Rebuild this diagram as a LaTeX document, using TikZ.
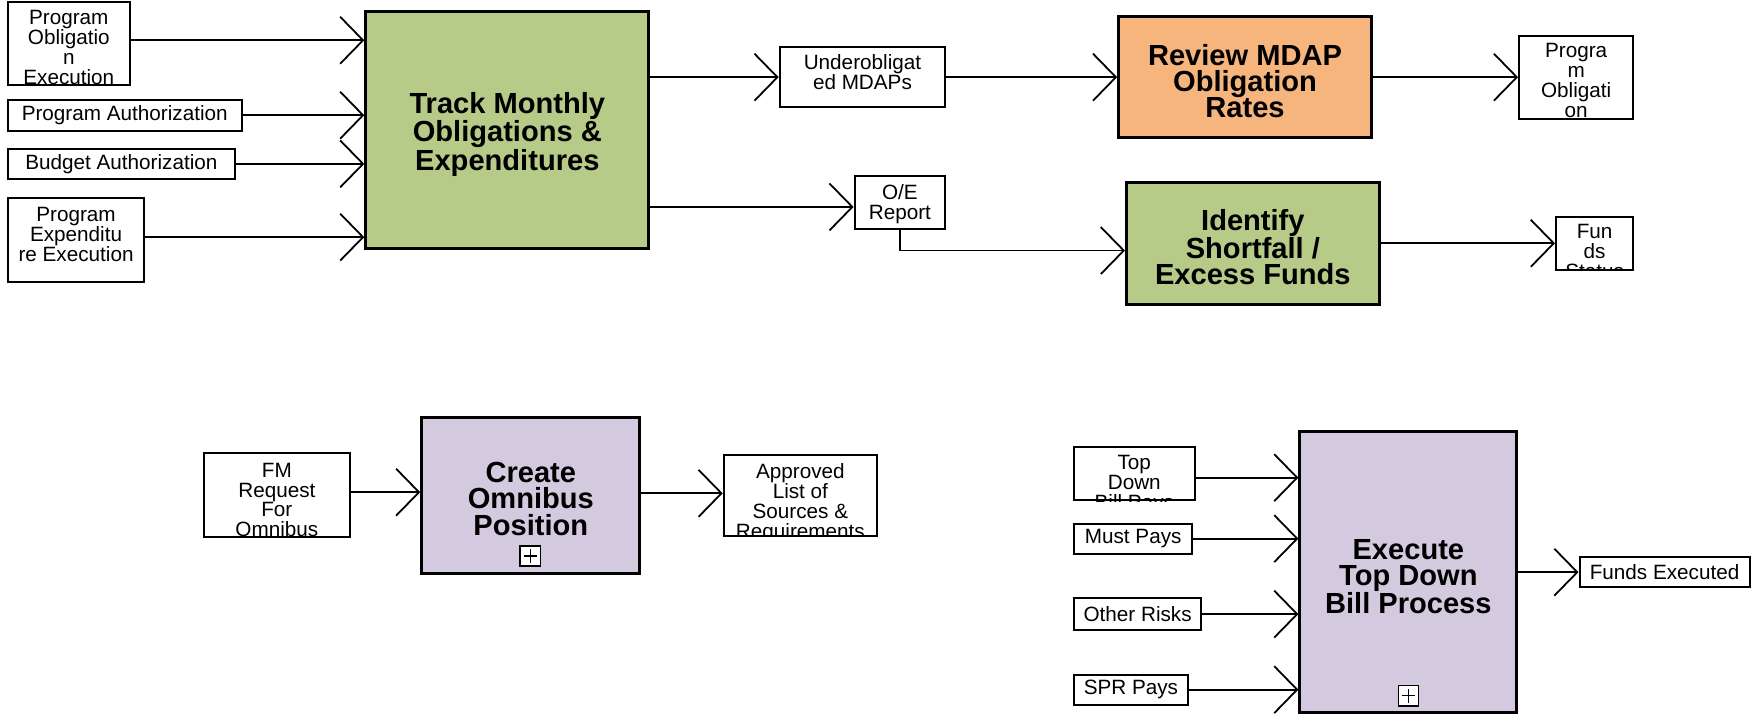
\documentclass[tikz,border=0pt]{standalone}
\usepackage{fontspec}
\setmainfont{Liberation Sans}
\usetikzlibrary{arrows.meta}
\definecolor{procgreen}{RGB}{182,203,136}
\definecolor{procorange}{RGB}{247,181,126}
\definecolor{procpurple}{RGB}{211,202,223}
\tikzset{
  iobox/.style={draw, fill=white, line width=1.8pt, inner sep=0pt, font=\fontsize{18.5}{17.8}\selectfont},
  iotext/.style={font=\fontsize{18.5}{17.8}\selectfont, align=center, inner sep=0pt},
  proc/.style={draw, line width=2.6pt, inner sep=0pt},
  proctext/.style={inner sep=0pt, font=\fontsize{26}{23.5}\selectfont\bfseries, align=center},
  flow/.style={line width=1.6pt, -{Straight Barb[length=20.5pt,width=42pt]}},
  plusbox/.style={draw, fill=white, line width=1.2pt, minimum size=18pt, inner sep=0pt}
}
\newcommand\iotxt[4]{\begin{scope}\clip (#1.south west) rectangle (#1.north east);\node[iotext, anchor=north] at (#2,#3) {#4};\end{scope}}
\newcommand\plusmark[1]{\draw[line width=1.2pt] ([xshift=-6pt]#1.center) -- ([xshift=6pt]#1.center) ([yshift=-6pt]#1.center) -- ([yshift=6pt]#1.center);}
\begin{document}
\begin{tikzpicture}[x=1pt,y=-1pt]
\useasboundingbox (0,0) rectangle (1568,640);

% ---------- top row ----------
\node[iobox, minimum width=109, minimum height=74] (poe) at (61.5,39) {};
\iotxt{poe}{61.5}{9}{Program\\Obligatio\\n\\Execution}
\node[iobox, minimum width=209, minimum height=28] (pa) at (111.5,103) {Program Authorization};
\node[iobox, minimum width=203, minimum height=27] (ba) at (108.5,146.5) {Budget Authorization};
\node[iobox, minimum width=122, minimum height=75] (pee) at (68,214.5) {};
\iotxt{pee}{68}{185}{Program\\Expenditu\\re Execution}

\node[proc, fill=procgreen, minimum width=253, minimum height=212] (track) at (453.5,116) {};
\node[proctext] (tracktxt) at ([yshift=-4pt]track.center) {Track Monthly\\Obligations \&\\Expenditures};

\node[iobox, minimum width=148, minimum height=54] (ubo) at (771,69) {};
\iotxt{ubo}{771}{48.5}{Underobligat\\ed MDAPs}
\node[iobox, minimum width=81, minimum height=48] (oe) at (804.5,181) {};
\iotxt{oe}{804.5}{165}{O/E\\Report}

\node[proc, fill=procorange, minimum width=226, minimum height=108] (rev) at (1113,69) {};
\node[proctext] (revtxt) at ([yshift=-3.5pt]rev.center) {Review MDAP\\Obligation\\Rates};
\node[proc, fill=procgreen, minimum width=226, minimum height=109] (idf) at (1120,217.5) {};
\node[proctext] (idftxt) at ([yshift=-3.5pt]idf.center) {Identify\\Shortfall /\\Excess Funds};

\node[iobox, minimum width=102, minimum height=74] (pob) at (1409,69) {};
\iotxt{pob}{1409}{38.7}{Progra\\m\\Obligati\\on}
\node[iobox, minimum width=69, minimum height=47] (fs) at (1425.5,217.5) {};
\iotxt{fs}{1425.5}{200.5}{Fun\\ds\\Status}

% ---------- bottom left ----------
\node[iobox, minimum width=131, minimum height=75] (fm) at (247.5,442.5) {};
\iotxt{fm}{247.5}{413.6}{FM\\Request\\For\\Omnibus}
\node[proc, fill=procpurple, minimum width=195, minimum height=140] (cop) at (474.5,443) {};
\node[proctext] (coptxt) at ([yshift=-3pt]cop.center) {Create\\Omnibus\\Position};
\node[plusbox] (copplus) at (474,497) {};
\plusmark{copplus}
\node[iobox, minimum width=137, minimum height=72] (apl) at (715.5,443) {};
\iotxt{apl}{715.5}{414}{Approved\\List of\\Sources \&\\Requirements}

% ---------- bottom right ----------
\node[iobox, minimum width=108, minimum height=47] (tdb) at (1014,423.5) {};
\iotxt{tdb}{1014}{407}{Top\\Down\\Bill Pays}
\node[iobox, minimum width=106, minimum height=27] (mp) at (1013,481.5) {Must Pays};
\node[iobox, minimum width=114, minimum height=28] (orisk) at (1017,549) {Other Risks};
\node[iobox, minimum width=102, minimum height=27] (spr) at (1011,616.5) {SPR Pays};
\node[proc, fill=procpurple, minimum width=194, minimum height=251] (etd) at (1259,511.5) {};
\node[proctext] (etdtxt) at ([yshift=-4pt]etd.center) {Execute\\Top Down\\Bill Process};
\node[plusbox] (etdplus) at (1259,622) {};
\plusmark{etdplus}
\node[iobox, minimum width=152, minimum height=27] (fe) at (1488,511.5) {Funds Executed};

% ---------- connectors ----------
\coordinate (poeout) at ([yshift=3pt]poe.east);
\draw[flow] (poeout) -- (poeout -| track.west);
\draw[flow] (pa.east) -- (pa.east -| track.west);
\draw[flow] (ba.east) -- (ba.east -| track.west);
\coordinate (peeout) at ([yshift=2.5pt]pee.east);
\draw[flow] (peeout) -- (peeout -| track.west);

\draw[flow] (ubo.west -| track.east) -- (ubo.west);
\draw[flow] (ubo.east) -- (ubo.east -| rev.west);
\draw[flow] (rev.east) -- (rev.east -| pob.west);
\coordinate (oein) at ([yshift=-4pt]oe.west);
\draw[flow] (oein -| track.east) -- (oein);
\coordinate (idfin) at ([yshift=-6.5pt]idf.west);
\draw[flow] (oe.south) |- (idfin);
\draw[flow] (idf.east) -- (idf.east -| fs.west);

\coordinate (fmout) at ([yshift=2.5pt]fm.east);
\draw[flow] (fmout) -- (fmout -| cop.west);
\coordinate (aplin) at ([yshift=2pt]apl.west);
\draw[flow] (aplin -| cop.east) -- (aplin);

\coordinate (tdbout) at ([yshift=-3.5pt]tdb.east);
\draw[flow] (tdbout) -- (tdbout -| etd.west);
\draw[flow] (mp.east) -- (mp.east -| etd.west);
\draw[flow] (orisk.east) -- (orisk.east -| etd.west);
\draw[flow] (spr.east) -- (spr.east -| etd.west);
\draw[flow] (etd.east) -- (fe.west);
\end{tikzpicture}
\end{document}
